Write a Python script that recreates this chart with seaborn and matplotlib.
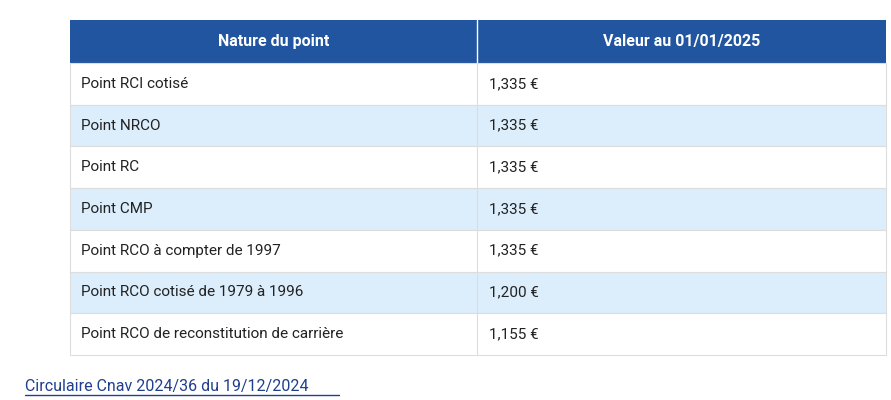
import matplotlib
matplotlib.use("Agg")
import matplotlib.pyplot as plt
import seaborn as sns
from matplotlib.patches import Rectangle

# Table data
headers = ["Nature du point", "Valeur au 01/01/2025"]
natures = [
    "Point RCI cotisé",
    "Point NRCO",
    "Point RC",
    "Point CMP",
    "Point RCO à compter de 1997",
    "Point RCO cotisé de 1979 à 1996",
    "Point RCO de reconstitution de carrière",
]
valeurs = ["1,335 €", "1,335 €", "1,335 €", "1,335 €", "1,335 €", "1,200 €", "1,155 €"]
source = "Circulaire Cnav 2024/36 du 19/12/2024"

sns.set_theme(style="white")
plt.rcParams["font.family"] = ["Roboto", "DejaVu Sans"]

HEADER = "#2155a0"
STRIPE = "#dcedfb"
GRID = "#dddddd"

fig = plt.figure(figsize=(8.91, 4.0), dpi=100)
ax = fig.add_axes([0, 0, 1, 1])
ax.set_xlim(0, 891)
ax.set_ylim(400, 0)
ax.axis("off")

x0, xm, x1 = 70, 477, 886
top, head_h, row_h = 20, 43, 41.7

ax.add_patch(Rectangle((x0, top), x1 - x0, head_h, color=HEADER, lw=0))
ax.plot([xm, xm], [top, top + head_h], color="white", lw=1)
for i, h in enumerate(headers):
    cx = (x0 + xm) / 2 if i == 0 else (xm + x1) / 2
    ax.text(cx, top + head_h / 2, h, color="white", fontsize=11.5,
            fontweight="bold", ha="center", va="center")

y = top + head_h
for i, (n, v) in enumerate(zip(natures, valeurs)):
    fc = STRIPE if i % 2 == 1 else "white"
    ax.add_patch(Rectangle((x0, y), x1 - x0, row_h, facecolor=fc,
                           edgecolor=GRID, lw=0.8))
    ax.plot([xm, xm], [y, y + row_h], color=GRID, lw=0.8)
    ax.text(x0 + 11, y + row_h / 2, n, fontsize=11, color="#222222", va="center")
    ax.text(xm + 12, y + row_h / 2, v, fontsize=11, color="#222222", va="center")
    y += row_h

t = ax.text(25, 387, source, fontsize=11.5, color="#1f3f8f", va="center")
ax.plot([25, 339], [395, 395], color="#1f3f8f", lw=1)

fig.savefig("out.png", dpi=100)
